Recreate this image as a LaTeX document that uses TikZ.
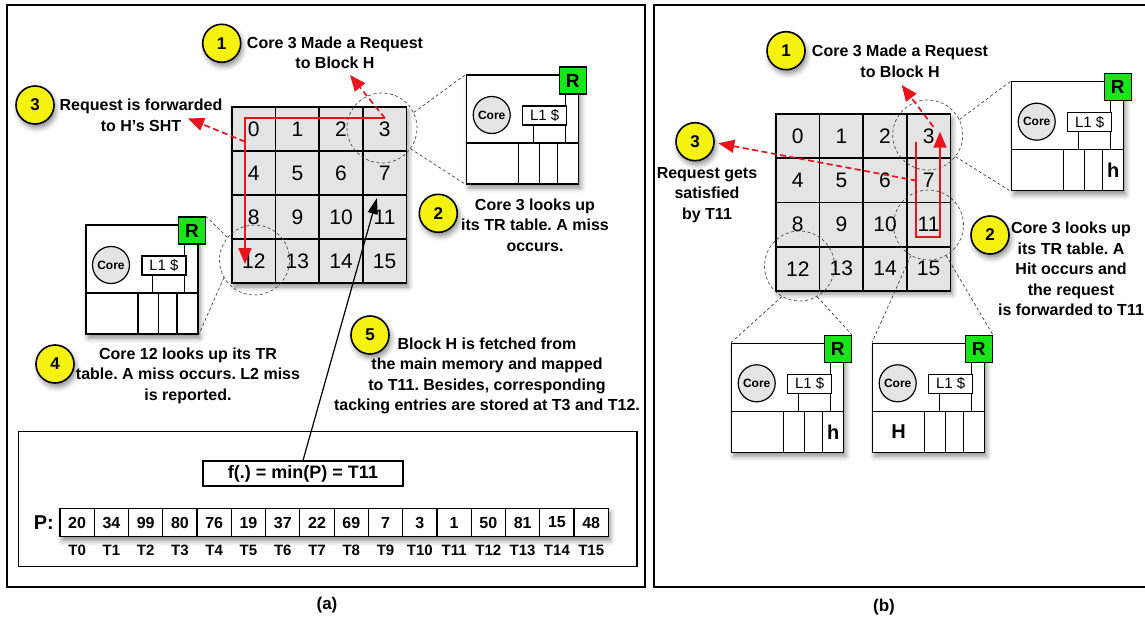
\documentclass[tikz,border=0pt]{standalone}
\usepackage{fontspec}
\setmainfont{Liberation Sans}
\frenchspacing
\usetikzlibrary{arrows.meta, positioning, calc, shadows.blur}
\definecolor{reqRed}{RGB}{232, 20, 27}
\definecolor{badgeYellow}{RGB}{246, 242, 16}
\definecolor{routerGreen}{RGB}{24, 230, 24}
\definecolor{tileGray}{RGB}{228, 228, 228}

\newcommand{\notefont}{\fontsize{16}{20.5}\selectfont\bfseries}
\newcommand{\cellfont}{\fontsize{21}{24}\selectfont}
\newcommand{\badgefont}{\fontsize{17}{20}\selectfont\bfseries}

% one tile of the chip: core, L1, router and the TR table
\newcommand{\tile}[3]{%
  \begin{scope}[shift={(#2,#3)}]
    \node[tilebox] (#1) at (56,54.5) {};
    \draw[tileline] (0,68) -- (112,68)
      (52,68) -- (52,109) (72.5,68) -- (72.5,109) (91,68) -- (91,109)
      (66.5,50) -- (66.5,68) (98.5,18) -- (98.5,68);
    \node[corecirc] (#1core) at (25,40) {Core};
    \node[l1box] (#1l1) at (78,40.5) {L1 \$};
    \node[rbox] (#1r) at (106,5.5) {R};
  \end{scope}}

\begin{document}
\begin{tikzpicture}[
    x=1pt, y=-1pt,
    shade/.style={blur shadow={shadow xshift=2pt, shadow yshift=-4pt, shadow blur radius=5pt, shadow opacity=45}},
    panel/.style={draw, line width=1.4pt, inner sep=0pt},
    cell/.style={draw, line width=1.6pt, fill=tileGray, minimum width=43.6pt, minimum height=44pt, inner sep=0pt, font=\cellfont},
    gridback/.style={fill=tileGray, minimum width=174.4pt, minimum height=176pt, inner sep=0pt, shade},
    badge/.style={circle, draw, line width=1.6pt, fill=badgeYellow, minimum size=38pt, inner sep=0pt, font=\badgefont, shade},
    note/.style={align=center, font=\notefont},
    ring/.style={circle, draw=black!70, dash pattern=on 3pt off 2.5pt, line width=0.7pt, minimum size=70pt, inner sep=0pt},
    zoomline/.style={draw=black!75, dash pattern=on 3pt off 2.5pt, line width=0.7pt},
    req/.style={draw=reqRed, line width=1.7pt, -{Triangle[length=16pt, width=13pt]}},
    reqdash/.style={req, dash pattern=on 6pt off 3.5pt},
    fetch/.style={draw, line width=1.2pt, -{Triangle[length=16pt, width=10pt]}},
    tilebox/.style={draw, line width=1.4pt, fill=white, minimum width=112pt, minimum height=109pt, inner sep=0pt, shade},
    tileline/.style={line width=1.2pt},
    corecirc/.style={circle, draw, line width=1.2pt, fill=tileGray, minimum size=37pt, inner sep=0pt, font=\fontsize{12}{13}\selectfont\bfseries},
    l1box/.style={draw, line width=1.2pt, fill=white, minimum width=44pt, minimum height=19pt, inner sep=0pt, font=\fontsize{15}{16}\selectfont},
    rbox/.style={draw, line width=1.2pt, fill=routerGreen, minimum size=27pt, inner sep=0pt, font=\fontsize{19}{20}\selectfont\bfseries},
    letter/.style={inner sep=0pt, font=\fontsize{20}{22}\selectfont\bfseries},
    pcell/.style={draw, line width=1.2pt, fill=white, minimum width=34.27pt, minimum height=28.4pt, inner sep=0pt, font=\fontsize{16}{18}\selectfont\bfseries},
    tlabel/.style={inner sep=0pt, font=\fontsize{15}{16}\selectfont\bfseries}
]
\useasboundingbox (0,0) rectangle (1145,623);

% Panels
\node[panel, minimum width=638pt, minimum height=582pt] (panelA) at (326,296) {};
\node[panel, minimum width=496pt, minimum height=582pt] (panelB) at (902,296) {};
\node[panel, minimum width=618.7pt, minimum height=135pt] (mapbox) at (327.65,499.2) {};
\node[font=\fontsize{17}{20}\selectfont\bfseries] (capA) at (327,605) {(a)};
\node[font=\fontsize{17}{20}\selectfont\bfseries] (capB) at (884,607) {(b)};

% Left chip
\node[gridback] (lgrid) at (319.2,195) {};
\foreach \n in {0,...,15} {
  \pgfmathtruncatemacro{\gr}{floor(\n/4)}
  \pgfmathtruncatemacro{\gc}{mod(\n,4)}
  \node[cell] (l\n) at ({232+43.6*(\gc+0.5)},{107+44*(\gr+0.5)}) {\n};
}
\node[ring] (lring3) at (382,128) {};
\node[ring] (lring12) at (254.5,260) {};

% Right chip
\node[gridback] (rgrid) at (863.2,202.2) {};
\foreach \n in {0,...,15} {
  \pgfmathtruncatemacro{\gr}{floor(\n/4)}
  \pgfmathtruncatemacro{\gc}{mod(\n,4)}
  \node[cell] (r\n) at ({776+43.6*(\gc+0.5)},{114+44.2*(\gr+0.5)}) {\n};
}
\node[ring] (rring3) at (927.7,135) {};
\node[ring] (rring11) at (928.5,225) {};
\node[ring] (rring12) at (799.5,266) {};

% Zoomed tiles
\tile{tileA}{466.7}{75}
\tile{tileB}{86}{225}
\tile{tileC}{1011.7}{81.7}
\tile{tileD}{731.7}{343.3}
\tile{tileE}{872.7}{343.3}
\node[letter] (tileCh) at ($(tileC)+(45.5,34)$) {h};
\node[letter] (tileDh) at ($(tileD)+(45.5,34)$) {h};
\node[letter] (tileEH) at ($(tileE)+(-30,34)$) {H};

\draw[zoomline] (lring3.26) -- (tileA.north west);
\draw[zoomline] (lring3.-36) -- (tileA.south west);
\draw[zoomline] (lring12.140) -- (tileBr.north east);
\draw[zoomline] (lring12.210) -- (tileB.south east);
\draw[zoomline] (rring3.26) -- (tileC.north west);
\draw[zoomline] (rring3.-38) -- (tileC.south west);
\draw[zoomline] (rring12.240) -- (tileD.north west);
\draw[zoomline] (rring12.-60) -- (tileDr.north east);
\draw[zoomline] (rring11.240) -- (tileE.north west);
\draw[zoomline] (rring11.-60) -- (tileEr.north east);

% Steps, left
\node[badge] (lb1) at (221.7,43.3) {1};
\node[badge] (lb2) at (438.3,213.3) {2};
\node[badge] (lb3) at (35,105) {3};
\node[badge] (lb4) at (55,364) {4};
\node[badge] (lb5) at (370,335) {5};
\node[note] (lnote1) at (335,53) {Core 3 Made a Request\\to Block H};
\node[note] (lnote2) at (535,225) {Core 3 looks up\\its TR table. A miss\\occurs.};
\node[note] (lnote3) at (141,115.5) {Request is forwarded\\to H's SHT};
\node[note] (lnote4) at (188,375.5) {Core 12 looks up its TR\\table. A miss occurs. L2 miss\\is reported.};
\node[note] (lnote5) at (487,376) {Block H is fetched from\\the main memory and mapped\\to T11. Besides, corresponding\\tacking entries are stored at T3 and T12.};

% Steps, right
\node[badge] (rb1) at (786,50.7) {1};
\node[badge] (rb2) at (990,235) {2};
\node[badge] (rb3) at (695,141.7) {3};
\node[note] (rnote1) at (900,61.3) {Core 3 Made a Request\\to Block H};
\node[note] (rnote2) at (1071,269) {Core 3 looks up\\its TR table. A\\Hit occurs and\\the request\\is forwarded to T11};
\node[note] (rnote3) at (707,194.7) {Request gets\\satisfied\\by T11};

% Mapping function
\node[draw, line width=1.2pt, fill=white, minimum width=200pt, minimum height=25pt, inner sep=0pt,
      font=\fontsize{18}{20}\selectfont\bfseries] (fmin) at (303,473.5) {f(.) = min(P) = T11};
\node[fill=white, minimum width=548.3pt, minimum height=28.4pt, inner sep=0pt, shade] (prow) at (334.15,522.5) {};
\foreach \v [count=\i from 0] in {20,34,99,80,76,19,37,22,69,7,3,1,50,81,15,48} {
  \node[pcell] (p\i) at ({60+34.27*(\i+0.5)},522.5) {\v};
  \node[tlabel, below=8pt of p\i] (t\i) {T\i};
}
\node[font=\fontsize{20}{22}\selectfont\bfseries, left=2pt of p0] (plabel) {P:};

% Request arrows, left
\coordinate (lreq) at (385,118.3);
\coordinate (lturn) at (245,118.3);
\coordinate (lmiss) at (245,264);
\coordinate (lask) at (350,75);
\coordinate (lfwd) at (245,141.7);
\coordinate (lsht) at (188,118.3);
\draw[req] (lreq) -- (lturn) -- (lmiss);
\draw[reqdash] (lreq) -- (lask);
\draw[reqdash] (lfwd) -- (lsht);

% Request arrows, right
\coordinate (rreq) at (916,141.7);
\coordinate (rdown) at (916,236.7);
\coordinate (rright) at (940,236.7);
\coordinate (rhit) at (940,131.7);
\coordinate (rstart) at (933.3,126.7);
\coordinate (rask) at (901.7,85);
\coordinate (rsat) at (916.7,180.7);
\coordinate (rdone) at (718.3,143.3);
\draw[req] (rreq) -- (rdown) -- (rright) -- (rhit);
\draw[reqdash] (rstart) -- (rask);
\draw[reqdash] (rsat) -- (rdone);

% Fetch to T11
\coordinate (lfill) at (377,198);
\draw[fetch] (fmin.north) -- (lfill);

\end{tikzpicture}
\end{document}
